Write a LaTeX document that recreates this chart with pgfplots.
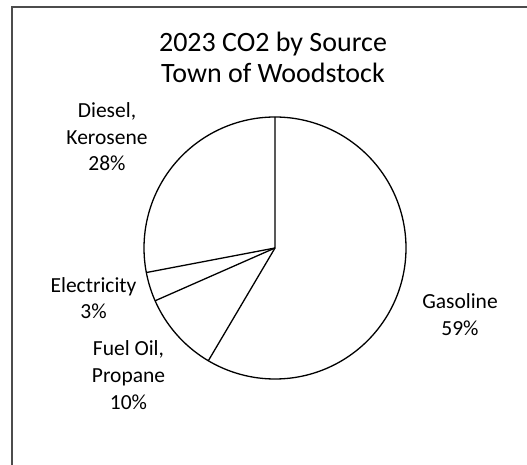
\documentclass[border=0pt]{standalone}
\usepackage{fontspec}
\setmainfont{Carlito}
\usepackage{pgfplots}
\pgfplotsset{compat=1.18}
% shares in percent, clockwise from 12 o'clock
\def\pGas{58.5}
\def\pFuel{9.9}
\def\pElec{3.6}
\def\pDies{28.0}
\pgfmathsetmacro\aA{90}
\pgfmathsetmacro\aB{\aA-3.6*\pGas}
\pgfmathsetmacro\aC{\aB-3.6*\pFuel}
\pgfmathsetmacro\aD{\aC-3.6*\pElec}
\begin{document}
\begin{tikzpicture}
\useasboundingbox (0,0) rectangle (527pt,-465pt);
\fill[white] (0,0) rectangle (527pt,-465pt);
\draw[line width=1.8pt, color=black!70] (12pt,-470pt) -- (12pt,-7pt) -- (532pt,-7pt);
\begin{axis}[hide axis, scale only axis, width=262pt, height=262pt,
  xmin=-1, xmax=1, ymin=-1, ymax=1, clip=false,
  at={(275pt,-248pt)}, anchor=origin]
\addplot[black, line width=1.3pt, data cs=polar, domain=0:360, samples=241] ({x},{1});
\addplot[black, line width=1.3pt, data cs=polar, line join=miter] coordinates {(\aA,1) (0,0) (\aB,1)};
\addplot[black, line width=1.3pt, data cs=polar] coordinates {(0,0) (\aC,1)};
\addplot[black, line width=1.3pt, data cs=polar] coordinates {(0,0) (\aD,1)};
\end{axis}
\begin{scope}[every node/.style={anchor=base, inner sep=0pt, font=\fontsize{28}{31}\selectfont}]
\node at (273pt,-52pt) {2023 CO2 by Source};
\node at (273pt,-83pt) {Town of Woodstock};
\end{scope}
\begin{scope}[every node/.style={anchor=base, inner sep=0pt, font=\fontsize{21.5}{26}\selectfont}]
\node at (107pt,-118pt) {Diesel,};
\node at (107pt,-145pt) {Kerosene};
\node at (107pt,-171pt) {28\%};
\node at (93.5pt,-292pt) {Electricity};
\node at (93.5pt,-318pt) {3\%};
\node at (128.5pt,-355pt) {Fuel Oil,};
\node at (128.5pt,-382pt) {Propane};
\node at (128.5pt,-409pt) {10\%};
\node at (460pt,-308pt) {Gasoline};
\node at (460pt,-335pt) {59\%};
\end{scope}
\end{tikzpicture}
\end{document}
